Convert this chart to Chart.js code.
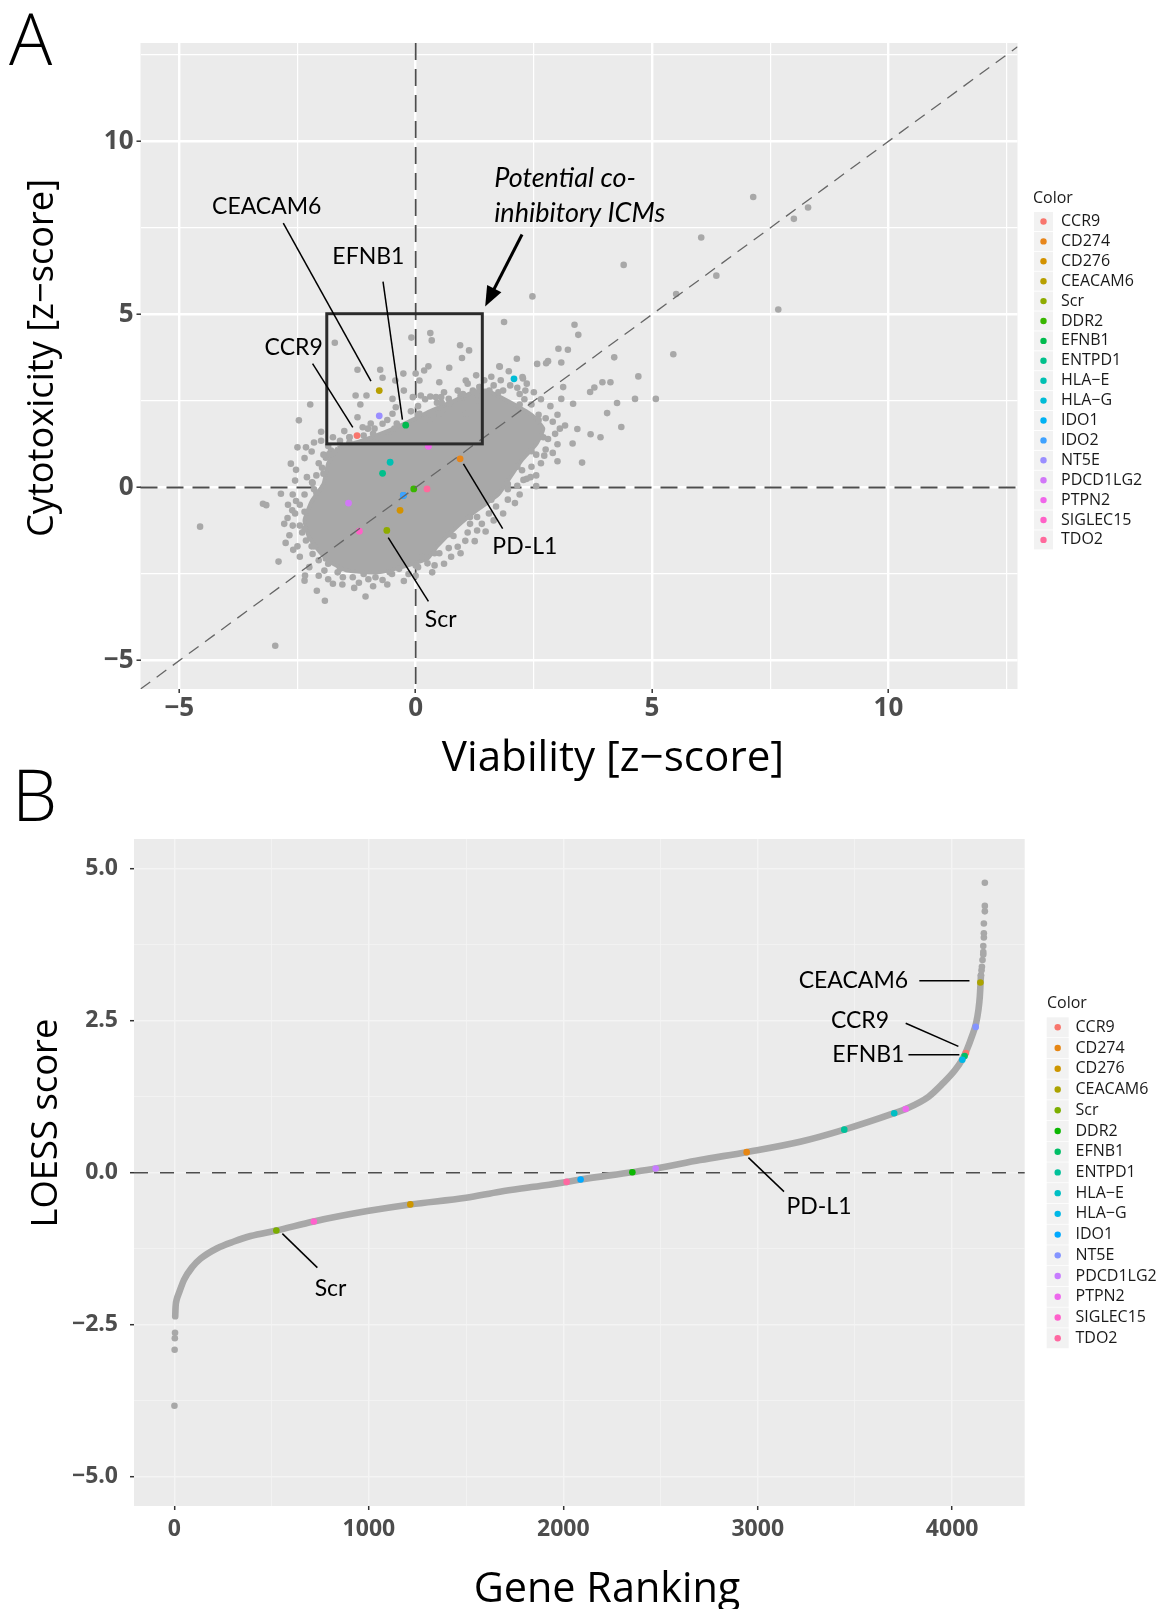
<!DOCTYPE html>
<html>
<head>
<meta charset="utf-8">
<script src="https://cdn.jsdelivr.net/npm/chart.js@4.4.0/dist/chart.umd.min.js"></script>
<style>
  body { margin: 0; background: #fff; width: 1157px; height: 1609px; position: relative; overflow: hidden; }
  .panel { position: absolute; left: 0; width: 1157px; }
</style>
</head>
<body>
<div class="panel" style="top:0;height:790px"><canvas id="chartA" width="1157" height="790"></canvas></div>
<div class="panel" style="top:740px;height:869px"><canvas id="chartB" width="1157" height="869"></canvas></div>
<script>
// ---------- panel A data : viability vs cytotoxicity z-scores ----------
const genesA = ['CCR9', 'CD274', 'CD276', 'CEACAM6', 'Scr', 'DDR2', 'EFNB1', 'ENTPD1', 'HLA\u2212E', 'HLA\u2212G',
  'IDO1', 'IDO2', 'NT5E', 'PDCD1LG2', 'PTPN2', 'SIGLEC15', 'TDO2'];
const colorsA = ['#F8766D', '#E7861B', '#D39200', '#B79F00', '#8EAB00', '#39B600', '#00BB4E', '#00C08B', '#00C0B2', '#00BCD6',
  '#00B2F3', '#3FA2FF', '#9A8EFF', '#D177F8', '#F066EA', '#FF61C7', '#FF699C'];
const viabilityA = [-1.24, 0.94, -0.33, -0.77, -0.61, -0.04, -0.21, -0.70, -0.54, 2.08, -0.26, -0.26, -0.77, -1.42, 0.27, -1.19, 0.24];
const cytotoxA = [1.50, 0.83, -0.66, 2.80, -1.24, -0.04, 1.80, 0.41, 0.73, 3.14, -0.23, -0.23, 2.07, -0.45, 1.19, -1.26, -0.04];

// dense core of the grey cloud [viability, cytotoxicity]
const cloudCore = [[-1.65, 1.15], [-1.15, 1.35], [-0.65, 1.6], [-0.15, 1.9], [0.3, 2.2], [0.8, 2.5], [1.2, 2.75], [1.5, 2.8],
  [1.95, 2.5], [2.45, 2.1], [2.7, 1.7], [2.55, 1.25], [2.25, 0.8], [2.0, 0.3], [1.75, -0.2], [1.3, -0.65], [0.9, -1.1],
  [0.45, -1.7], [0.25, -2.05], [-0.3, -2.3], [-0.8, -2.45], [-1.45, -2.4], [-1.75, -2.2], [-2.0, -1.9], [-2.25, -1.45],
  [-2.35, -0.95], [-2.2, -0.4], [-1.95, 0.1], [-1.85, 0.7]];

// individual grey genes [viability, cytotoxicity]
const bgUpperRight = [[7.14, 8.39], [8.30, 8.09], [8.00, 7.76], [6.04, 7.22], [4.40, 6.43], [6.36, 6.12], [5.51, 5.59], [7.67, 5.14],
  [2.47, 5.52], [5.45, 3.85], [1.87, 4.78], [3.36, 4.70], [3.44, 4.41], [3.02, 4.01], [3.22, 3.98], [4.20, 3.76], [2.14, 3.72],
  [2.57, 3.57], [2.80, 3.65], [3.08, 3.61], [1.78, 3.49], [4.71, 3.21], [3.95, 3.04], [4.12, 3.04], [3.78, 2.89], [3.69, 2.76],
  [5.08, 2.56], [4.64, 2.56], [4.26, 2.44], [4.05, 2.15], [4.35, 1.75], [3.91, 1.45], [3.70, 1.54], [3.52, 0.72], [3.00, 0.76],
  [2.55, 0.04], [2.27, 3.15], [2.15, 2.88], [3.12, 2.90], [3.33, 2.42], [3.08, 2.56], [3.42, 1.69], [3.16, 1.79], [3.32, 1.27],
  [2.43, 0.30], [2.28, 0.22], [2.72, 0.92], [1.48, -1.27], [1.30, -1.24], [0.89, -1.71], [1.05, -1.54], [1.97, 3.36],
  [2.76, 3.59], [2.26, 3.19], [2.32, 2.80], [1.77, 3.50]];
const bgUpperLeft = [[-1.71, 4.18], [-2.23, 2.40], [-2.47, 1.94], [-0.09, 4.33], [0.31, 4.46], [0.34, 4.25], [0.94, 4.11],
  [1.13, 3.96], [0.98, 3.74], [0.71, 3.46], [0.27, 3.50], [0.18, 3.38], [0.0, 3.29], [-0.26, 3.29], [-0.25, 2.80], [-0.43, 3.09],
  [-0.70, 3.17], [-0.75, 3.40], [-1.23, 3.40], [-1.27, 2.66], [-1.04, 2.66], [-1.17, 2.40], [-1.23, 2.03], [-1.51, 1.63],
  [1.28, 3.24], [1.06, 3.09], [0.89, 2.80], [0.54, 2.61], [0.70, 2.56], [0.31, 2.63], [0.11, 2.66], [0.50, 3.04], [1.35, 2.90],
  [1.56, 2.80], [-0.49, 2.56], [-0.87, 1.70], [-0.70, 1.84], [-1.01, 1.70], [-1.83, 0.97], [-2.19, 0.15], [-2.64, 0.69],
  [-2.85, -0.18], [-3.23, -0.47], [-4.56, -1.13]];
const bgInBox = [[-1.12, 1.74], [-1.40, 1.45], [-0.80, 1.45], [-0.49, 2.13], [-0.42, 2.32], [-0.06, 2.61], [0.08, 2.13],
  [0.43, 2.61], [0.57, 2.23], [0.71, 2.42], [0.99, 2.61], [1.21, 2.80], [1.28, 2.51], [1.06, 2.13], [0.29, 1.94], [-0.27, 1.60],
  [-0.56, 1.45], [0.08, 3.09], [0.50, 2.13], [1.42, 2.23]];
const bgLower = [[-3.16, -0.51], [-2.97, -4.57], [-2.90, -2.14], [-2.53, 0.51], [-2.0, 1.61], [-2.50, 1.16], [-2.32, 1.16],
  [-2.20, 1.04], [-2.18, 0.13], [-2.59, -1.80], [-2.67, -1.38], [-2.78, -1.05], [-2.71, -0.88], [-2.61, -0.66], [-2.53, -0.39],
  [-2.35, -2.69], [-2.34, -2.54], [-2.09, -2.98], [-1.92, -3.27], [-1.75, -2.78], [-1.06, -3.15], [-2.18, -1.92], [-1.93, -2.40],
  [-1.54, -2.59], [-1.33, -2.59], [-0.85, -2.59], [-0.70, -2.67], [-0.35, -2.35], [0.25, -2.19], [0.13, -2.01], [-2.32, -1.53],
  [-1.98, 0.57], [-1.90, 0.86], [-1.79, 1.07]];
const bgCloudEdge = [[-1.6, 1.35], [-1.4, 1.45], [-1.1, 1.5], [-0.95, 1.85], [-0.6, 1.95], [-0.45, 1.7], [-0.1, 2.2], [0.05, 2.35],
  [0.2, 2.55], [0.45, 2.45], [0.6, 2.75], [0.95, 2.65], [1.1, 3.0], [1.25, 2.75], [1.45, 3.1], [1.65, 2.95], [1.85, 2.8], [2.0, 2.95],
  [2.3, 2.55], [2.45, 2.4], [2.6, 2.1], [2.75, 2.0], [2.9, 1.9], [2.95, 1.55], [2.8, 1.4], [2.75, 1.1], [2.55, 0.95], [2.45, 0.6],
  [2.25, 0.5], [2.15, 0.05], [1.95, -0.05], [1.95, -0.35], [1.7, -0.55], [1.55, -0.75], [1.3, -0.85], [1.15, -1.05], [1.1, -1.3],
  [0.8, -1.4], [0.7, -1.75], [0.5, -1.9], [0.4, -2.25], [0.05, -2.3], [-0.15, -2.5], [-0.5, -2.5], [-1.0, -2.65], [-1.2, -2.75],
  [-1.65, -2.45], [-1.85, -2.2], [-2.05, -2.1], [-2.2, -1.7], [-2.4, -1.3], [-2.45, -1.1], [-2.55, -0.75], [-2.45, -0.5],
  [-2.35, -0.2], [-2.15, -0.05], [-2.1, 0.35], [-2.05, 0.7], [-1.95, 0.95], [-1.85, 1.2]];
const bgCloudRim = [[-1.4, 1.3], [-0.9, 1.55], [-0.4, 1.85], [0.05, 2.1], [0.55, 2.45], [1.0, 2.7], [1.35, 2.9], [1.75, 2.75],
  [2.2, 2.4], [2.6, 1.95], [2.7, 1.45], [2.45, 1.05], [2.15, 0.6], [1.95, 0.1], [1.6, -0.35], [1.15, -0.85], [0.7, -1.35],
  [0.4, -1.9], [0.0, -2.25], [-0.55, -2.45], [-1.1, -2.5], [-1.6, -2.35], [-1.9, -2.05], [-2.15, -1.7], [-2.35, -1.2],
  [-2.35, -0.7], [-2.1, -0.15], [-1.95, 0.4], [-1.8, 0.95]];
const bgCloudHalo = [[-2.6, -0.2], [-2.55, 0.2], [-2.3, 0.3], [-2.35, 0.85], [-2.15, 1.3], [-2.0, 1.35], [-1.75, 1.45],
  [-2.7, -0.5], [-2.6, -1.1], [-2.75, -1.6], [-2.5, -1.7], [-2.45, -2.0], [-2.25, -2.3], [-2.05, -2.55], [-1.85, -2.65],
  [-1.55, -2.8], [-1.3, -2.9], [-0.9, -2.85], [-0.6, -2.8], [-0.25, -2.7], [0.0, -2.55], [0.35, -2.45], [0.6, -2.2], [0.75, -2.0],
  [0.95, -1.9], [1.25, -1.55], [1.4, -1.05], [1.65, -0.95], [1.85, -0.75], [2.1, -0.45], [2.2, -0.2], [2.35, 0.25], [2.55, 0.35],
  [2.65, 0.7], [2.9, 1.0], [3.0, 1.25], [3.05, 1.7], [3.0, 2.1], [2.85, 2.35], [2.65, 2.55], [2.5, 2.75], [2.2, 2.7], [2.35, 3.0],
  [1.8, 3.1], [1.6, 3.2]];

const ticksA = [-5, -2.5, 0, 2.5, 5, 7.5, 10, 12.5];
const majorA = [-5, 0, 5, 10];

// ---------- panel B data : LOESS score by gene ranking ----------
const genesB = ['CCR9', 'CD274', 'CD276', 'CEACAM6', 'Scr', 'DDR2', 'EFNB1', 'ENTPD1', 'HLA\u2212E', 'HLA\u2212G',
  'IDO1', 'NT5E', 'PDCD1LG2', 'PTPN2', 'SIGLEC15', 'TDO2'];
const colorsB = ['#F8766D', '#E68613', '#CD9600', '#ABA300', '#7CAE00', '#0CB702', '#00BE67', '#00C19A', '#00BFC4', '#00B8E7',
  '#00A9FF', '#8494FF', '#C77CFF', '#ED68ED', '#FF61CC', '#FF68A1'];
const rankB = [4071, 2943, 1213, 4145, 524, 2355, 4064, 3445, 3702, 4052, 2089, 4121, 2475, 3761, 717, 2017];
const loessB = [1.97, 0.34, -0.52, 3.13, -0.95, 0.01, 1.92, 0.71, 0.98, 1.86, -0.11, 2.40, 0.07, 1.05, -0.80, -0.15];

const curveRank = [4, 6, 12, 23, 49, 92, 135, 220, 306, 392, 524, 717, 992, 1213, 1500, 1674, 1849, 2017, 2089, 2355,
  2475, 2703, 2943, 3218, 3445, 3702, 3761, 3878, 3952, 4015, 4049, 4075, 4101, 4123, 4135, 4142, 4148];
const curveLoess = [-2.36, -2.20, -2.08, -1.98, -1.76, -1.55, -1.41, -1.24, -1.13, -1.04, -0.95, -0.80, -0.63, -0.52, -0.41, -0.31,
  -0.23, -0.15, -0.11, 0.01, 0.07, 0.21, 0.34, 0.51, 0.71, 0.98, 1.05, 1.25, 1.47, 1.69, 1.85, 2.02, 2.24, 2.46, 2.68, 2.89, 3.25];
const tailRank = [0, 1, 2, 3, 4148, 4151, 4153, 4156, 4160, 4160, 4160, 4163, 4163, 4163, 4168, 4168, 4168];
const tailLoess = [-3.83, -2.91, -2.72, -2.63, 3.25, 3.33, 3.39, 3.50, 3.59, 3.63, 3.73, 3.87, 3.94, 4.10, 4.30, 4.39, 4.77];

const ticksBx = [0, 500, 1000, 1500, 2000, 2500, 3000, 3500, 4000];
const majorBx = [0, 1000, 2000, 3000, 4000];
const ticksBy = [-5, -3.75, -2.5, -1.25, 0, 1.25, 2.5, 3.75, 5];
const majorBy = [-5, -2.5, 0, 2.5, 5];

// ---------- layout of text / annotations ----------
const GREY = '#a8a8a8';
const annotA = {
  letter: {text: 'A', x: 9, y: 65},
  xTitle: {text: 'Viability [z\u2212score]', cx: 613, base: 771, width: 342},
  yTitle: {text: 'Cytotoxicity [z\u2212score]', cy: 358, base: 53, width: 358},
  labels: [
    {text: 'CEACAM6', x: -3.15, y: 8.12},
    {text: 'EFNB1', x: -1.0, y: 6.66},
    {text: 'CCR9', x: -2.58, y: 4.03},
    {text: 'PD-L1', x: 2.31, y: -1.71},
    {text: 'Scr', x: 0.53, y: -3.82}
  ],
  leaders: [[-2.80, 7.64, -0.945, 3.07], [-0.69, 5.95, -0.28, 1.96], [-2.18, 3.58, -1.33, 1.74],
    [1.01, 0.68, 1.84, -1.19], [-0.58, -1.45, 0.27, -3.29]],
  box: [-1.88, 1.26, 1.41, 5.02],
  arrow: [2.25, 7.31, 1.47, 5.23],
  note: [{text: 'Potential co-', x: 1.66, y: 8.92}, {text: 'inhibitory ICMs', x: 1.66, y: 7.91}],
  legend: {left: 1033, titleY: 198, firstY: 221.5, step: 19.9, keyX: 1043.5, textX: 1061, keyW: 19, keyH: 19}
};
// panel B canvas starts 740px down the page
const annotB = {
  letter: {text: 'B', x: 12, y: 81},
  xTitle: {text: 'Gene Ranking', cx: 607, base: 862, width: 267},
  yTitle: {text: 'LOESS score', cy: 383, base: 57, width: 209},
  labels: [
    {text: 'CEACAM6', x: 3492, y: 3.16},
    {text: 'CCR9', x: 3526, y: 2.51},
    {text: 'EFNB1', x: 3569, y: 1.94},
    {text: 'PD-L1', x: 3315, y: -0.56},
    {text: 'Scr', x: 803, y: -1.90}
  ],
  leaders: [[3831, 3.16, 4089, 3.16], [3761, 2.46, 4032, 2.08], [3775, 1.94, 4037, 1.94],
    [2952, 0.25, 3135, -0.31], [555, -1.00, 735, -1.56]],
  legend: {left: 1047, titleY: 263, firstY: 287.3, step: 20.73, keyX: 1057.7, textX: 1075.5, keyW: 22, keyH: 20}
};

Chart.defaults.font.family = '"Open Sans", sans-serif';

function toPts(pairs) { return pairs.map(p => ({x: p[0], y: p[1]})); }
function zip(xs, ys) { return xs.map((x, i) => ({x: x, y: ys[i]})); }
function minus(s) { return String(s).replace('-', '\u2212'); }

function makeAxis(o) {
  return {
    type: 'linear', min: o.min, max: o.max,
    afterBuildTicks: s => { s.ticks = o.ticks.map(v => ({value: v})); },
    afterFit: s => {
      if (o.width) s.width = o.width;
      if (o.height) s.height = o.height;
      s.paddingTop = 0; s.paddingBottom = 0; s.paddingLeft = 0; s.paddingRight = 0;
    },
    border: {display: false},
    grid: {
      color: o.gridColor,
      lineWidth: c => (c.tick && o.majors.includes(c.tick.value)) ? o.majorW : o.minorW,
      tickColor: c => (c.tick && o.majors.includes(c.tick.value)) ? '#333333' : 'rgba(0,0,0,0)',
      tickLength: 4,
      tickWidth: 1.5
    },
    ticks: {
      autoSkip: false, maxRotation: 0, minRotation: 0, padding: o.pad, color: '#4d4d4d',
      font: {size: o.fontSize, weight: 'bold'},
      callback: v => o.majors.includes(v) ? o.fmt(v) : ''
    }
  };
}

function dash(ctx, pts, color, width, pattern) {
  ctx.save();
  ctx.strokeStyle = color; ctx.lineWidth = width; ctx.setLineDash(pattern);
  ctx.beginPath(); ctx.moveTo(pts[0], pts[1]); ctx.lineTo(pts[2], pts[3]); ctx.stroke();
  ctx.restore();
}

function drawTitles(chart, an) {
  const ctx = chart.ctx;
  ctx.save();
  ctx.fillStyle = '#000';
  ctx.textAlign = 'left'; ctx.textBaseline = 'alphabetic';
  ctx.font = '300 72px "Open Sans"';
  ctx.fillText(an.letter.text, an.letter.x, an.letter.y);
  ctx.textAlign = 'center';
  let f = '"Open Sans"';
  ctx.font = '100px ' + f;
  let size = 100 * an.xTitle.width / ctx.measureText(an.xTitle.text).width;
  ctx.font = size.toFixed(1) + 'px ' + f;
  ctx.fillText(an.xTitle.text, an.xTitle.cx, an.xTitle.base);
  ctx.font = '100px ' + f;
  size = 100 * an.yTitle.width / ctx.measureText(an.yTitle.text).width;
  ctx.font = size.toFixed(1) + 'px ' + f;
  ctx.translate(an.yTitle.base, an.yTitle.cy);
  ctx.rotate(-Math.PI / 2);
  ctx.fillText(an.yTitle.text, 0, 0);
  ctx.restore();
}

function drawLegend(ctx, L, names, colors) {
  ctx.save();
  ctx.textAlign = 'left'; ctx.textBaseline = 'middle';
  ctx.font = '16px "Open Sans"';
  ctx.fillStyle = '#1a1a1a';
  ctx.fillText('Color', L.left, L.titleY);
  names.forEach((n, i) => {
    const y = L.firstY + i * L.step;
    ctx.fillStyle = '#f2f2f2';
    ctx.fillRect(L.keyX - L.keyW / 2, y - L.keyH / 2, L.keyW, L.keyH);
    ctx.fillStyle = colors[i];
    ctx.beginPath(); ctx.arc(L.keyX, y, 3.2, 0, 2 * Math.PI); ctx.fill();
    ctx.fillStyle = '#1a1a1a';
    ctx.fillText(n, L.textX, y);
  });
  ctx.restore();
}

function drawLabels(chart, an) {
  const ctx = chart.ctx, sx = chart.scales.x, sy = chart.scales.y;
  ctx.save();
  ctx.strokeStyle = '#000'; ctx.lineWidth = 1.5;
  an.leaders.forEach(l => {
    ctx.beginPath();
    ctx.moveTo(sx.getPixelForValue(l[0]), sy.getPixelForValue(l[1]));
    ctx.lineTo(sx.getPixelForValue(l[2]), sy.getPixelForValue(l[3]));
    ctx.stroke();
  });
  ctx.fillStyle = '#000'; ctx.textAlign = 'center'; ctx.textBaseline = 'middle';
  ctx.font = '23px Lato';
  an.labels.forEach(t => ctx.fillText(t.text, sx.getPixelForValue(t.x), sy.getPixelForValue(t.y)));
  ctx.restore();
}

const bgPlugin = {
  id: 'bgPlugin',
  beforeDraw(chart) {
    const a = chart.chartArea, ctx = chart.ctx;
    ctx.save();
    ctx.fillStyle = '#ebebeb';
    ctx.fillRect(a.left, a.top, a.right - a.left, a.bottom - a.top);
    ctx.restore();
  }
};

const annotPluginA = {
  id: 'annotA',
  beforeDatasetsDraw(chart) {
    const a = chart.chartArea, sx = chart.scales.x, sy = chart.scales.y, ctx = chart.ctx;
    const x0 = sx.getPixelForValue(0), y0 = sy.getPixelForValue(0);
    dash(ctx, [a.left, y0, a.right, y0], '#4d4d4d', 1.8, [17, 9]);
    dash(ctx, [x0, a.top, x0, a.bottom], '#4d4d4d', 1.8, [17, 9]);
  },
  afterDatasetsDraw(chart) {
    const a = chart.chartArea, sx = chart.scales.x, sy = chart.scales.y, ctx = chart.ctx;
    ctx.save();
    ctx.beginPath(); ctx.rect(a.left, a.top, a.right - a.left, a.bottom - a.top); ctx.clip();
    const lo = Math.max(sx.min, sy.min), hi = Math.min(sx.max, sy.max);
    dash(ctx, [sx.getPixelForValue(lo), sy.getPixelForValue(lo), sx.getPixelForValue(hi), sy.getPixelForValue(hi)],
      '#666666', 1.3, [12, 8]);
    ctx.restore();
    // box around potential co-inhibitory ICMs
    const b = annotA.box;
    ctx.save();
    ctx.strokeStyle = '#2b2b2b'; ctx.lineWidth = 3;
    const bx = sx.getPixelForValue(b[0]), by = sy.getPixelForValue(b[3]);
    ctx.strokeRect(bx, by, sx.getPixelForValue(b[2]) - bx, sy.getPixelForValue(b[1]) - by);
    // arrow
    const ar = annotA.arrow;
    const ax1 = sx.getPixelForValue(ar[0]), ay1 = sy.getPixelForValue(ar[1]);
    const ax2 = sx.getPixelForValue(ar[2]), ay2 = sy.getPixelForValue(ar[3]);
    const ang = Math.atan2(ay2 - ay1, ax2 - ax1);
    ctx.strokeStyle = '#000'; ctx.fillStyle = '#000'; ctx.lineWidth = 3;
    ctx.beginPath(); ctx.moveTo(ax1, ay1);
    ctx.lineTo(ax2 - 14 * Math.cos(ang), ay2 - 14 * Math.sin(ang)); ctx.stroke();
    ctx.beginPath(); ctx.moveTo(ax2, ay2);
    ctx.lineTo(ax2 - 20 * Math.cos(ang) + 8 * Math.sin(ang), ay2 - 20 * Math.sin(ang) - 8 * Math.cos(ang));
    ctx.lineTo(ax2 - 20 * Math.cos(ang) - 8 * Math.sin(ang), ay2 - 20 * Math.sin(ang) + 8 * Math.cos(ang));
    ctx.closePath(); ctx.fill();
    ctx.font = 'italic 27px Lato'; ctx.textAlign = 'left'; ctx.textBaseline = 'middle';
    annotA.note.forEach(t => ctx.fillText(t.text, sx.getPixelForValue(t.x), sy.getPixelForValue(t.y)));
    ctx.restore();
    drawLabels(chart, annotA);
  },
  afterDraw(chart) {
    drawTitles(chart, annotA);
    drawLegend(chart.ctx, annotA.legend, genesA, colorsA);
  }
};

const annotPluginB = {
  id: 'annotB',
  beforeDatasetsDraw(chart) {
    const a = chart.chartArea, sy = chart.scales.y;
    const y0 = sy.getPixelForValue(0);
    dash(chart.ctx, [a.left, y0, a.right, y0], '#4d4d4d', 1.6, [14, 12]);
  },
  afterDatasetsDraw(chart) { drawLabels(chart, annotB); },
  afterDraw(chart) {
    drawTitles(chart, annotB);
    drawLegend(chart.ctx, annotB.legend, genesB, colorsB);
  }
};

const closedCore = toPts(cloudCore).concat([{x: cloudCore[0][0], y: cloudCore[0][1]}]);
const greyA = toPts(bgUpperRight.concat(bgUpperLeft, bgInBox, bgLower, bgCloudEdge, bgCloudRim, bgCloudHalo));

new Chart(document.getElementById('chartA'), {
  type: 'scatter',
  data: {
    datasets: [
      {data: zip(viabilityA, cytotoxA), pointRadius: 3.4, pointBackgroundColor: colorsA, pointBorderWidth: 0, order: 1},
      {data: greyA, pointRadius: 3.3, pointBackgroundColor: GREY, pointBorderWidth: 0, order: 2},
      {data: closedCore, showLine: true, fill: 'shape', backgroundColor: GREY, borderColor: GREY, borderWidth: 4,
        borderJoinStyle: 'round', pointRadius: 0, tension: 0.15, order: 3}
    ]
  },
  options: {
    responsive: false, animation: false, events: [],
    layout: {padding: {top: 43, right: 139.5, left: 0, bottom: 0}},
    plugins: {legend: {display: false}, tooltip: {enabled: false}},
    scales: {
      x: makeAxis({min: -5.82, max: 12.73, ticks: ticksA, majors: majorA, fmt: minus, height: 101, pad: 0,
        fontSize: 26, gridColor: '#ffffff', majorW: 2.4, minorW: 1.2}),
      y: makeAxis({min: -5.82, max: 12.84, ticks: ticksA, majors: majorA, fmt: minus, width: 140.5, pad: 3,
        fontSize: 26, gridColor: '#ffffff', majorW: 2.4, minorW: 1.2})
    }
  },
  plugins: [bgPlugin, annotPluginA]
});

new Chart(document.getElementById('chartB'), {
  type: 'scatter',
  data: {
    datasets: [
      {data: zip(rankB, loessB), pointRadius: 3.3, pointBackgroundColor: colorsB, pointBorderWidth: 0, order: 1},
      {data: zip(tailRank, tailLoess), pointRadius: 3.3, pointBackgroundColor: GREY, pointBorderWidth: 0, order: 2},
      {data: zip(curveRank, curveLoess), showLine: true, borderColor: GREY, borderWidth: 6.6, borderCapStyle: 'round',
        borderJoinStyle: 'round', cubicInterpolationMode: 'monotone', pointRadius: 0, order: 3}
    ]
  },
  options: {
    responsive: false, animation: false, events: [],
    layout: {padding: {top: 99, right: 132.3, left: 0, bottom: 0}},
    plugins: {legend: {display: false}, tooltip: {enabled: false}},
    scales: {
      x: makeAxis({min: -208, max: 4373, ticks: ticksBx, majors: majorBx, fmt: v => String(v), height: 103, pad: 6,
        fontSize: 23, gridColor: '#f4f4f4', majorW: 1.4, minorW: 0.8}),
      y: makeAxis({min: -5.48, max: 5.49, ticks: ticksBy, majors: majorBy, fmt: v => minus(v.toFixed(1)), width: 134, pad: 12,
        fontSize: 23, gridColor: '#f4f4f4', majorW: 1.4, minorW: 0.8})
    }
  },
  plugins: [bgPlugin, annotPluginB]
});
</script>
</body>
</html>
